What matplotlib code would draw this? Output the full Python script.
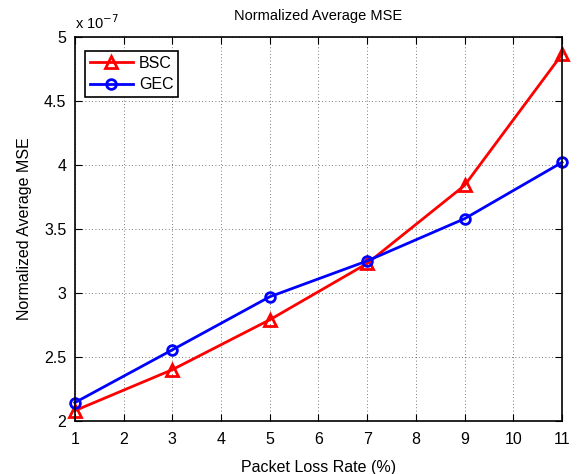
import numpy as np
import matplotlib.pyplot as plt
from matplotlib.ticker import FuncFormatter

# ------------------------------------------------------------
# Data (MSE values in units of 1e-7)
# ------------------------------------------------------------
loss_rate = [1, 3, 5, 7, 9, 11]
bsc_mse = [2.08, 2.40, 2.79, 3.23, 3.84, 4.865]
gec_mse = [2.143, 2.555, 2.97, 3.25, 3.58, 4.02]
scale = 1e-7

x_ticks = list(range(1, 12))
y_ticks = [2.0, 2.5, 3.0, 3.5, 4.0, 4.5, 5.0]


def main():
    plt.rcParams['font.family'] = ['Liberation Sans', 'DejaVu Sans']
    plt.rcParams['font.size'] = 11.5

    fig = plt.figure(figsize=(5.8, 4.74), dpi=100)
    ax = fig.add_axes([0.129, 0.112, 0.840, 0.810])

    bsc = np.array(bsc_mse) * scale
    gec = np.array(gec_mse) * scale

    ax.plot(loss_rate, bsc, color='red', lw=2, marker='^', ms=9,
            mfc='none', mew=2, label='BSC', clip_on=False)
    ax.plot(loss_rate, gec, color='blue', lw=2, marker='o', ms=7,
            mfc='none', mew=2, label='GEC', clip_on=False)

    ax.set_xlim(1, 11)
    ax.set_ylim(2 * scale, 5 * scale)
    ax.set_xticks(x_ticks)
    ax.set_yticks([v * scale for v in y_ticks])
    ax.yaxis.set_major_formatter(FuncFormatter(lambda v, p: f"{v / scale:g}"))

    ax.tick_params(direction='in', top=True, right=True, length=5,
                   width=0.8, labelsize=11.5)
    ax.tick_params(axis='x', pad=8)
    ax.tick_params(axis='y', pad=6)
    for sp in ax.spines.values():
        sp.set_linewidth(1.2)

    ax.grid(True, linestyle=(0, (1, 3)), color='black', linewidth=0.6, alpha=0.7)

    ax.set_xlabel('Packet Loss Rate (%)', fontsize=11.5, labelpad=9)
    ax.set_ylabel('Normalized Average MSE', fontsize=11.5, labelpad=9)
    ax.set_title('Normalized Average MSE', fontsize=10.5, pad=12)

    ax.text(0.0, 1.012, r'x 10$^{-7}$', transform=ax.transAxes,
            ha='left', va='bottom', fontsize=10.5)

    leg = ax.legend(loc='upper left', fancybox=False, framealpha=1,
                    edgecolor='black', borderpad=0.3, handlelength=2.7,
                    handletextpad=0.4, labelspacing=0.4,
                    bbox_to_anchor=(0.004, 0.984), fontsize=11.5)
    leg.get_frame().set_linewidth(1.2)

    fig.savefig('out.png', dpi=100)


if __name__ == "__main__":
    main()
